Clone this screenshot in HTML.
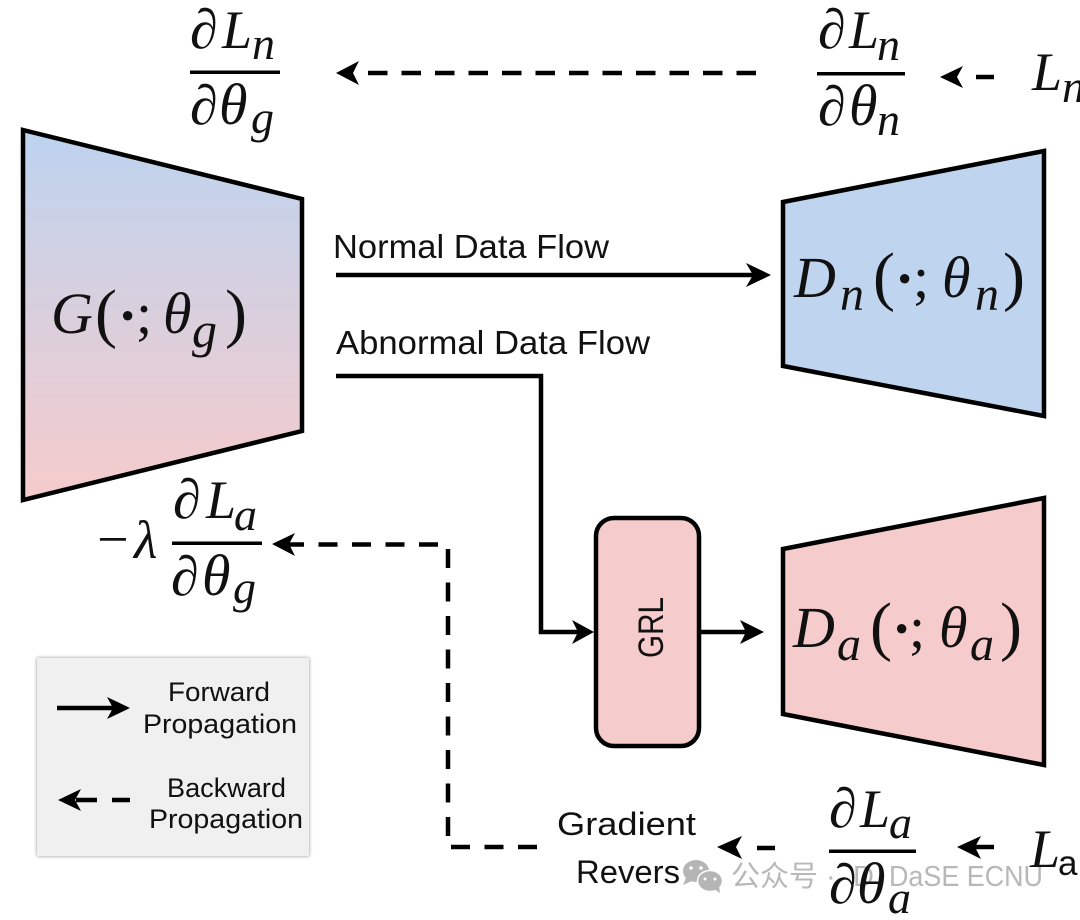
<!DOCTYPE html>
<html><head><meta charset="utf-8"><style>
html,body{margin:0;padding:0;background:#fff}
svg{display:block}
.s{font-family:"Liberation Sans","DejaVu Sans",sans-serif;fill:#111}
.m{font-family:"Liberation Serif","DejaVu Serif",serif;fill:#111}
.i{font-style:italic}
.b{font-size:58px}.p{font-size:66px}.u{font-size:48px}
.d{font-size:56px}.l{font-size:54px}.t{font-size:58px}.n{font-size:46px}
</style></head><body>
<svg width="1080" height="920" viewBox="0 0 1080 920" xmlns="http://www.w3.org/2000/svg">
<defs>
<linearGradient id="g" x1="0" y1="0" x2="0" y2="1"><stop offset="0" stop-color="#bdd3ef"/><stop offset="1" stop-color="#f6cbcb"/></linearGradient>
<filter id="sh" x="-5%" y="-5%" width="110%" height="110%"><feDropShadow dx="0" dy="0" stdDeviation="1.8" flood-color="#000" flood-opacity=".45"/></filter>
</defs>

<polygon points="23,130 302,199 302,431 23,500" fill="url(#g)" stroke="#000" stroke-width="4.500"/>
<polygon points="783,202 1044,151 1044,416 783,366" fill="#bfd4ef" stroke="#000" stroke-width="4.500"/>
<polygon points="783,549 1044,498 1044,765 783,714" fill="#f6cbcb" stroke="#000" stroke-width="4.500"/>
<rect x="596" y="518" width="103" height="228" rx="18" fill="#f6cbcb" stroke="#000" stroke-width="4.500"/>
<text class="s" transform="translate(663,658) rotate(-90)" font-size="35" textLength="61" lengthAdjust="spacingAndGlyphs">GRL</text>

<rect x="37" y="658" width="272" height="198" fill="#f0f0f0" filter="url(#sh)"/>

<!-- connectors -->
<g fill="none" stroke="#000" stroke-width="4.500">
<path d="M336,275H755"/>
<path d="M336,376H541V632H580"/>
<path d="M699,632H748"/>
<path d="M57,708H116"/>
<path d="M368,73H756" stroke-dasharray="19.500,14"/>
<path d="M994,77H976"/>
<path d="M438,544.500H285" stroke-dasharray="19,14.500"/>
<path d="M448,549V836" stroke-dasharray="19,14.500"/>
<path d="M451,847H538" stroke-dasharray="19,14.500"/>
<path d="M130,800H112M97,800H76"/>
<path d="M775,848H757"/>
<path d="M994,847H975"/>
</g>
<g fill="#000">
<path d="M771,275L746,263L753,275L746,287Z"/>
<path d="M594,632L572,620L578,632L572,644Z"/>
<path d="M764,632L740,620L746,632L740,644Z"/>
<path d="M130,708L107,697L113,708L107,719Z"/>
<path d="M336,73L359,61L353,73L359,85Z"/>
<path d="M940,77L963,66L957,77L963,88Z"/>
<path d="M272,544L295,533L289,544L295,556Z"/>
<path d="M58,800L81,789L75,800L81,811Z"/>
<path d="M717,847L742,836L736,847L742,859Z"/>
<path d="M957,847L981,836L975,847L981,859Z"/>
</g>

<!-- labels -->
<text class="s" x="333" y="258" font-size="33" textLength="276" lengthAdjust="spacingAndGlyphs">Normal Data Flow</text>
<text class="s" x="336" y="354" font-size="33" textLength="314" lengthAdjust="spacingAndGlyphs">Abnormal Data Flow</text>
<g font-size="27">
<text class="s" x="168" y="701" textLength="102" lengthAdjust="spacingAndGlyphs">Forward</text>
<text class="s" x="143" y="733" textLength="154" lengthAdjust="spacingAndGlyphs">Propagation</text>
<text class="s" x="167" y="797" textLength="119" lengthAdjust="spacingAndGlyphs">Backward</text>
<text class="s" x="149" y="828" textLength="154" lengthAdjust="spacingAndGlyphs">Propagation</text>
</g>
<g font-size="32">
<text class="s" x="557" y="835" textLength="139" lengthAdjust="spacingAndGlyphs">Gradient</text>
<text class="s" x="576" y="883" textLength="104" lengthAdjust="spacingAndGlyphs">Revers</text>
</g>

<!-- watermark -->
<g fill="#b5b5b5">
<ellipse cx="696" cy="871" rx="13" ry="11"/>
<path d="M686,878l-3,7l9,-4z"/>
<ellipse cx="710" cy="881" rx="12.500" ry="10.500" stroke="#fff" stroke-width="1.500"/>
<path d="M714,889l6,4l-1,-7z"/>
<g fill="#fff"><circle cx="691" cy="868" r="1.800"/><circle cx="701" cy="868" r="1.800"/><circle cx="705" cy="879" r="1.500"/><circle cx="715" cy="879" r="1.500"/></g>
</g>
<g fill="#b8b8b8" font-size="29" font-family='"Liberation Sans","Noto Sans CJK SC",sans-serif'>
<text x="731" y="886" textLength="87" lengthAdjust="spacingAndGlyphs">公众号</text>
<text x="826" y="886">·</text>
<text x="853" y="886">D</text>
<text x="889" y="886" textLength="154" lengthAdjust="spacingAndGlyphs">DaSE ECNU</text>
</g>

<!-- big node math -->
<text class="m i b" x="51" y="333">G</text>
<text class="m p" x="95" y="335">(</text>
<text class="m b" x="118" y="335" font-weight="bold">·</text>
<text class="m b" x="136" y="333">;</text>
<text class="m i t" x="163" y="333">θ</text>
<text class="m i" x="192" y="347" font-size="50">g</text>
<text class="m p" x="225" y="335">)</text>

<text class="m i b" x="794" y="297">D</text>
<text class="m i u" x="840" y="310">n</text>
<text class="m p" x="873" y="298">(</text>
<text class="m b" x="895" y="298" font-weight="bold">·</text>
<text class="m b" x="913" y="297">;</text>
<text class="m i t" x="942" y="297">θ</text>
<text class="m i u" x="975" y="310">n</text>
<text class="m p" x="1003" y="298">)</text>

<text class="m i b" x="793" y="647">D</text>
<text class="m i u" x="837" y="660">a</text>
<text class="m p" x="870" y="648">(</text>
<text class="m b" x="892" y="648" font-weight="bold">·</text>
<text class="m b" x="909" y="647">;</text>
<text class="m i t" x="939" y="647">θ</text>
<text class="m i u" x="970" y="660">a</text>
<text class="m p" x="1000" y="648">)</text>

<!-- fractions -->
<rect x="190" y="70.500" width="90" height="3.500"/>
<text class="m d" x="190" y="48">∂</text><text class="m i l" x="222" y="48">L</text><text class="m i n" x="252" y="59">n</text>
<text class="m d" x="190" y="124">∂</text><text class="m i t" x="219" y="124">θ</text><text class="m i n" x="251" y="133">g</text>

<rect x="817" y="72" width="88" height="3.500"/>
<text class="m d" x="818" y="48">∂</text><text class="m i l" x="849" y="48">L</text><text class="m i n" x="877" y="60">n</text>
<text class="m d" x="818" y="125">∂</text><text class="m i t" x="849" y="125">θ</text><text class="m i n" x="877" y="135">n</text>

<text class="m i l" x="1032" y="90">L</text><text class="m i n" x="1062" y="102">n</text>

<text class="m" x="97" y="558" font-size="56">−</text>
<text class="m i" x="134" y="558" font-size="54">λ</text>
<rect x="172" y="541.500" width="90" height="3.500"/>
<text class="m d" x="173" y="518">∂</text><text class="m i l" x="206" y="518">L</text><text class="m i n" x="234" y="530">a</text>
<text class="m d" x="171" y="595">∂</text><text class="m i t" x="202" y="595">θ</text><text class="m i n" x="233" y="603">g</text>

<rect x="829" y="849.500" width="87" height="3.500"/>
<text class="m d" x="829" y="827">∂</text><text class="m i l" x="860" y="827">L</text><text class="m i n" x="889" y="838">a</text>
<text class="m d" x="829" y="903">∂</text><text class="m i t" x="857" y="903">θ</text><text class="m i n" x="888" y="913">a</text>

<text class="m i l" x="1030" y="867">L</text>
<text class="s" x="1058" y="875" font-size="35">a</text>
</svg>
</body></html>
